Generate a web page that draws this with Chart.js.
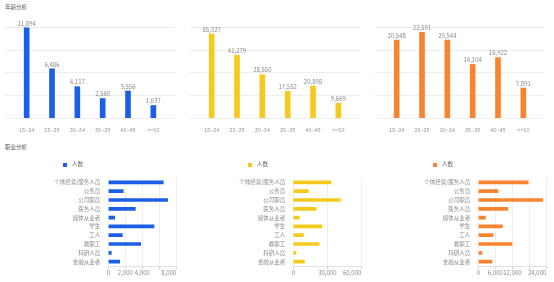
<!DOCTYPE html>
<html>
<head>
<meta charset="utf-8">
<script src="https://cdn.jsdelivr.net/npm/chart.js@4"></script>
<style>
  body { margin: 0; background: #fff; }
  #page { position: relative; width: 554px; height: 282px; overflow: hidden;
          font-family: "Noto Sans CJK SC", "Noto Sans", sans-serif; }
  .title { position: absolute; left: 5px; font-size: 5.5px; color: #555; line-height: 1; }
  .box { position: absolute; }
  .legend { position: absolute; font-size: 5.5px; color: #666; line-height: 1; }
  .legend i { display: inline-block; width: 4px; height: 4px; margin-right: 5px; vertical-align: -0.5px; }
</style>
</head>
<body>
<div id="page">
  <div class="title" style="top:5px">年龄分析</div>
  <div class="title" style="top:145px">职业分析</div>
</div>
<script>
const FONT = '"Noto Sans CJK SC", "Noto Sans", sans-serif';

// age distribution (top row)
const ageLabels = ["18~24", "25~29", "30~34", "35~39", "40~49", ">=50"];
const ageSeriesA = [11894, 6486, 4117, 2560, 3556, 1637];
const ageSeriesB = [55327, 41279, 28550, 17552, 20898, 9669];
const ageSeriesC = [20548, 22591, 20544, 14104, 15922, 7891];
const ageMax = [12000, 60000, 24000];

// occupation (bottom row)
const jobLabels = ["个体经营/服务人员", "公务员", "公司职员", "医务人员", "媒体从业者",
                   "学生", "工人", "教职工", "科研人员", "金融从业者"];
const jobSeriesA = [6470, 1760, 6990, 3180, 750, 5380, 1650, 3810, 350, 1340];
const jobSeriesB = [33200, 13300, 41500, 20200, 5300, 25200, 8900, 22800, 2400, 9800];
const jobSeriesC = [17600, 6950, 22700, 10400, 2500, 8500, 5200, 11900, 1300, 4800];
const jobMax = [8000, 60000, 24000];
const jobStep = [2000, 30000, 6000];
const seriesName = "人数";

const colors = ["#1b5fe6", "#f5ca1c", "#f9842f"];

const fmt = v => v.toLocaleString("en-US");
const page = document.getElementById("page");

function addCanvas(left, top, w, h) {
  const div = document.createElement("div");
  div.className = "box";
  div.style.left = left + "px";
  div.style.top = top + "px";
  const c = document.createElement("canvas");
  c.width = w; c.height = h;
  c.style.width = w + "px"; c.style.height = h + "px";
  div.appendChild(c);
  page.appendChild(div);
  return c;
}

// horizontal grid lines, a bit wider than the plot area
const wideGrid = {
  id: "wideGrid",
  beforeDatasetsDraw(chart, args, opts) {
    const y = chart.scales.y, ctx = chart.ctx;
    ctx.save();
    ctx.fillStyle = "#eeeeee";
    for (let v = 0; v <= opts.max + 1e-6; v += opts.step) {
      const py = Math.round(y.getPixelForValue(v));
      ctx.fillRect(5, py, chart.width - 15, 1);
    }
    ctx.restore();
  }
};

// value above each bar
const valueLabels = {
  id: "valueLabels",
  afterDatasetsDraw(chart) {
    const ctx = chart.ctx;
    const meta = chart.getDatasetMeta(0);
    const data = chart.data.datasets[0].data;
    ctx.save();
    ctx.font = "6px " + FONT;
    ctx.fillStyle = "#8a8a8a";
    ctx.textAlign = "center";
    ctx.textBaseline = "bottom";
    meta.data.forEach((bar, i) => ctx.fillText(fmt(data[i]), bar.x, bar.y - 1.5));
    ctx.restore();
  }
};

// value axis labels: last one right aligned, the ones that would hit it are dropped
const valueAxisLabels = {
  id: "valueAxisLabels",
  afterDraw(chart) {
    const x = chart.scales.x, ctx = chart.ctx;
    const ticks = x.ticks;
    const n = ticks.length;
    const py = chart.chartArea.bottom + 7;
    ctx.save();
    ctx.font = "6px " + FONT;
    ctx.fillStyle = "#8a8a8a";
    ctx.textBaseline = "middle";
    const lastText = fmt(ticks[n - 1].value);
    const lastX = x.getPixelForValue(ticks[n - 1].value);
    const lastLeft = lastX - ctx.measureText(lastText).width;
    ctx.textAlign = "right";
    ctx.fillText(lastText, lastX, py);
    ctx.textAlign = "center";
    for (let i = 0; i < n - 1; i++) {
      const t = fmt(ticks[i].value);
      const px = x.getPixelForValue(ticks[i].value);
      if (px + ctx.measureText(t).width / 2 > lastLeft - 2) continue;
      ctx.fillText(t, px, py);
    }
    ctx.restore();
  }
};

const ageData = [ageSeriesA, ageSeriesB, ageSeriesC];
ageData.forEach((series, k) => {
  const w = k === 2 ? 184 : 185;
  const canvas = addCanvas(185 * k, 0, w, 140);
  new Chart(canvas, {
    type: "bar",
    data: {
      labels: ageLabels,
      datasets: [{ data: series, backgroundColor: colors[k], barThickness: 5 }]
    },
    plugins: [wideGrid, valueLabels],
    options: {
      responsive: false,
      animation: false,
      layout: { padding: { left: 14, right: w - 166, top: 27, bottom: 5.5 } },
      plugins: {
        legend: { display: false },
        tooltip: { enabled: false },
        wideGrid: { max: ageMax[k], step: ageMax[k] / 4 }
      },
      scales: {
        x: {
          grid: { display: false },
          border: { display: false },
          ticks: { color: "#999", font: { size: 5.5, family: FONT }, padding: 1, maxRotation: 0, autoSkip: false }
        },
        y: { display: false, min: 0, max: ageMax[k] }
      }
    }
  });
});

const jobData = [jobSeriesA, jobSeriesB, jobSeriesC];
jobData.forEach((series, k) => {
  const w = k === 2 ? 184 : 185;
  const left = 185 * k;
  const canvas = addCanvas(left, 140, w, 142);
  const lg = document.createElement("div");
  lg.className = "legend";
  lg.style.left = (left + 63) + "px";
  lg.style.top = "162px";
  lg.innerHTML = '<i style="background:' + colors[k] + '"></i>' + seriesName;
  page.appendChild(lg);
  new Chart(canvas, {
    type: "bar",
    data: {
      labels: jobLabels,
      datasets: [{ label: seriesName, data: series, backgroundColor: colors[k], barThickness: 3 }]
    },
    plugins: [valueAxisLabels],
    options: {
      indexAxis: "y",
      responsive: false,
      animation: false,
      layout: { padding: { left: 8.3, right: w - 176.3, top: 38, bottom: 13 } },
      plugins: { legend: { display: false }, tooltip: { enabled: false } },
      scales: {
        x: {
          min: 0, max: jobMax[k],
          grid: { color: "#eeeeee", tickLength: 3, tickColor: "#d0d0d0" },
          border: { display: true, color: "#e2e2e2" },
          ticks: { display: false, stepSize: jobStep[k] }
        },
        y: {
          grid: { display: false, drawTicks: false },
          border: { display: false },
          afterFit: s => { s.width = 100; },
          ticks: { color: "#888", font: { size: 5.5, family: FONT }, padding: 8, autoSkip: false }
        }
      }
    }
  });
});
</script>
</body>
</html>
